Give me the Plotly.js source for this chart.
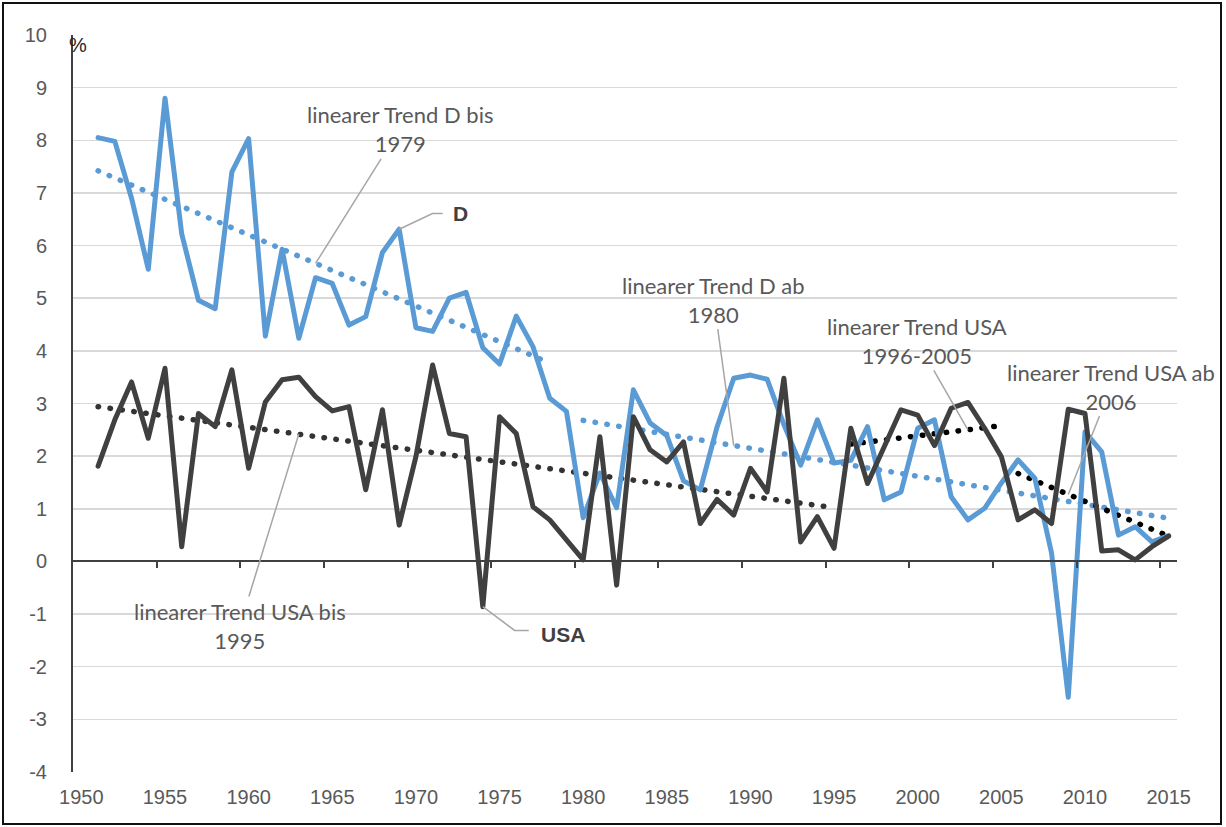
<!DOCTYPE html>
<html>
<head>
<meta charset="utf-8">
<script src="https://cdn.plot.ly/plotly-3.0.1.min.js"></script>
<style>
  html, body { margin: 0; padding: 0; background: #fff; }
  #wrap { position: relative; width: 1226px; height: 827px; }
  #chart { width: 1226px; height: 827px; }
  #frame { position: absolute; left: 2px; top: 2px; width: 1220px; height: 823px;
           box-sizing: border-box; border: 2px solid #111; pointer-events: none; }
  .js-line { stroke-linecap: round !important; stroke-linejoin: round !important; }
</style>
</head>
<body>
<div id="wrap"><div id="chart"></div><div id="frame"></div></div>
<script>
// ---- data ----
const years = [1951,1952,1953,1954,1955,1956,1957,1958,1959,1960,1961,1962,1963,1964,1965,1966,1967,1968,1969,1970,
  1971,1972,1973,1974,1975,1976,1977,1978,1979,1980,1981,1982,1983,1984,1985,1986,1987,1988,1989,1990,
  1991,1992,1993,1994,1995,1996,1997,1998,1999,2000,2001,2002,2003,2004,2005,2006,2007,2008,2009,2010,
  2011,2012,2013,2014,2015];
const seriesD = [8.05,7.98,6.90,5.55,8.80,6.22,4.96,4.80,7.40,8.03,4.28,5.93,4.24,5.39,5.28,4.49,4.65,5.87,6.31,4.44,
  4.37,5.00,5.11,4.06,3.75,4.66,4.08,3.10,2.85,0.83,1.68,1.02,3.26,2.63,2.39,1.53,1.36,2.55,3.48,3.54,
  3.46,2.60,1.83,2.69,1.87,1.92,2.56,1.17,1.32,2.53,2.69,1.23,0.79,1.01,1.49,1.93,1.58,0.16,-2.58,2.46,
  2.08,0.50,0.66,0.37,0.49];
const seriesUSA = [1.81,2.69,3.41,2.34,3.67,0.28,2.81,2.56,3.64,1.77,3.03,3.45,3.50,3.13,2.86,2.94,1.36,2.88,0.69,1.99,
  3.73,2.43,2.37,-0.86,2.75,2.43,1.04,0.79,0.41,0.03,2.37,-0.45,2.75,2.12,1.89,2.27,0.72,1.18,0.88,1.77,
  1.32,3.48,0.37,0.85,0.25,2.53,1.48,2.18,2.88,2.78,2.20,2.91,3.02,2.53,1.99,0.79,0.98,0.72,2.89,2.81,
  0.20,0.22,0.03,0.28,0.48];
// trend line end points
const trendD1Years = [1951, 1978],   trendD1 = [7.42, 3.77];
const trendD2Years = [1980, 2015],   trendD2 = [2.68, 0.82];
const trendU1Years = [1951, 1995],   trendU1 = [2.94, 1.02];
const trendU2Years = [1996, 2005],   trendU2 = [2.23, 2.58];
const trendU3Years = [2006, 2015],   trendU3 = [1.67, 0.48];
// tick labels
const xTickVals = [1950,1955,1960,1965,1970,1975,1980,1985,1990,1995,2000,2005,2010,2015];
const xTickText = ['1950','1955','1960','1965','1970','1975','1980','1985','1990','1995','2000','2005','2010','2015'];
const yTickVals = [-4,-3,-2,-1,0,1,2,3,4,5,6,7,8,9,10];
const yTickText = ['-4','-3','-2','-1','0','1','2','3','4','5','6','7','8','9','10'];
const zeroAxisTicks = [1954.5,1959.5,1964.5,1969.5,1974.5,1979.5,1984.5,1989.5,1994.5,1999.5,2004.5,2009.5,2014.5];

const BLUE = '#5B9BD5', DARK = '#404040';
const DOT = '0.5px,11.5px';

const traces = [
  {x: trendD1Years, y: trendD1, mode: 'lines', line: {color: BLUE, width: 5.5, dash: DOT}, hoverinfo: 'skip'},
  {x: trendD2Years, y: trendD2, mode: 'lines', line: {color: BLUE, width: 5.5, dash: DOT}, hoverinfo: 'skip'},
  {x: trendU1Years, y: trendU1, mode: 'lines', line: {color: '#333333', width: 5.5, dash: DOT}, hoverinfo: 'skip'},
  {x: trendU2Years, y: trendU2, mode: 'lines', line: {color: '#000000', width: 5.5, dash: DOT}, hoverinfo: 'skip'},
  {x: trendU3Years, y: trendU3, mode: 'lines', line: {color: '#000000', width: 5.5, dash: DOT}, hoverinfo: 'skip'},
  {x: years, y: seriesD, mode: 'lines', name: 'D', line: {color: BLUE, width: 5}},
  {x: years, y: seriesUSA, mode: 'lines', name: 'USA', line: {color: DARK, width: 5}},
  {x: years, y: seriesUSA, xaxis: 'x2', mode: 'none', hoverinfo: 'skip', showlegend: false}
];

const annFont = {family: 'Lato, Carlito, Calibri, sans-serif', size: 22, color: '#595959'};
const arrow = {showarrow: true, arrowhead: 0, arrowwidth: 1.5, arrowcolor: '#a6a6a6', standoff: 0};

const layout = {
  width: 1226, height: 827,
  margin: {l: 73, r: 49, t: 35, b: 55},
  paper_bgcolor: '#fff', plot_bgcolor: '#fff',
  showlegend: false,
  font: {family: '"Liberation Sans Narrow", "Liberation Sans", Arial, sans-serif', size: 20, color: '#595959'},
  xaxis: {
    range: [1949.5, 2015.5], tickvals: xTickVals, ticktext: xTickText,
    showgrid: false, zeroline: false, showline: false, ticks: '',
    ticklabelstandoff: 11, tickfont: {size: 20, color: '#595959'}
  },
  xaxis2: {
    overlaying: 'x', anchor: 'free', position: 4 / 14, range: [1949.5, 2015.5],
    showline: true, linecolor: DARK, linewidth: 2, ticks: 'outside', ticklen: 6, tickwidth: 2,
    tickcolor: DARK, tickvals: zeroAxisTicks, showticklabels: false, showgrid: false, zeroline: false
  },
  yaxis: {
    range: [-4, 10], tickvals: yTickVals, ticktext: yTickText, showgrid: true, gridcolor: '#d9d9d9', gridwidth: 1.5,
    zeroline: false, showline: true, linecolor: DARK, linewidth: 2, ticks: '',
    ticklabelstandoff: 20, tickfont: {size: 20, color: '#595959'}
  },
  shapes: [
    {type: 'path', xref: 'x', yref: 'y', path: 'M 1969,6.31 L 1970.99,6.61 L 1971.6,6.61',
     line: {color: '#a6a6a6', width: 1.5}},
    {type: 'path', xref: 'x', yref: 'y', path: 'M 1974,-0.86 L 1975.9,-1.31 L 1976.75,-1.31',
     line: {color: '#a6a6a6', width: 1.5}}
  ],
  annotations: [
    Object.assign({x: 1964, y: 5.66, ax: 84, ay: -134, text: 'linearer Trend D bis<br>1979', font: annFont}, arrow),
    Object.assign({x: 1989, y: 2.20, ax: -20, ay: -146, text: 'linearer Trend D ab<br>1980', font: annFont}, arrow),
    Object.assign({x: 2003, y: 2.50, ax: -51, ay: -89, text: 'linearer Trend USA<br>1996-2005', font: annFont}, arrow),
    Object.assign({x: 2009, y: 1.27, ax: 43, ay: -108, text: 'linearer Trend USA ab<br>2006', font: annFont}, arrow),
    Object.assign({x: 1963, y: 2.42, ax: -59, ay: 192, text: 'linearer Trend USA bis<br>1995', font: annFont}, arrow),
    {x: 1971.6, y: 6.61, xanchor: 'left', xshift: 8, showarrow: false, text: '<b>D</b>',
     font: {family: '"Liberation Sans", Arial, sans-serif', size: 21, color: DARK}},
    {x: 1976.75, y: -1.31, xanchor: 'left', xshift: 10, yshift: -4, showarrow: false, text: '<b>USA</b>',
     font: {family: '"Liberation Sans", Arial, sans-serif', size: 21, color: DARK}},
    {xref: 'paper', yref: 'paper', x: 0, y: 1, xanchor: 'left', yanchor: 'top', xshift: -6, yshift: 3,
     showarrow: false, text: '%', font: {family: '"Liberation Sans", Arial, sans-serif', size: 20, color: '#262626'}}
  ]
};

Plotly.newPlot('chart', traces, layout, {displayModeBar: false, staticPlot: true});
</script>
</body>
</html>
